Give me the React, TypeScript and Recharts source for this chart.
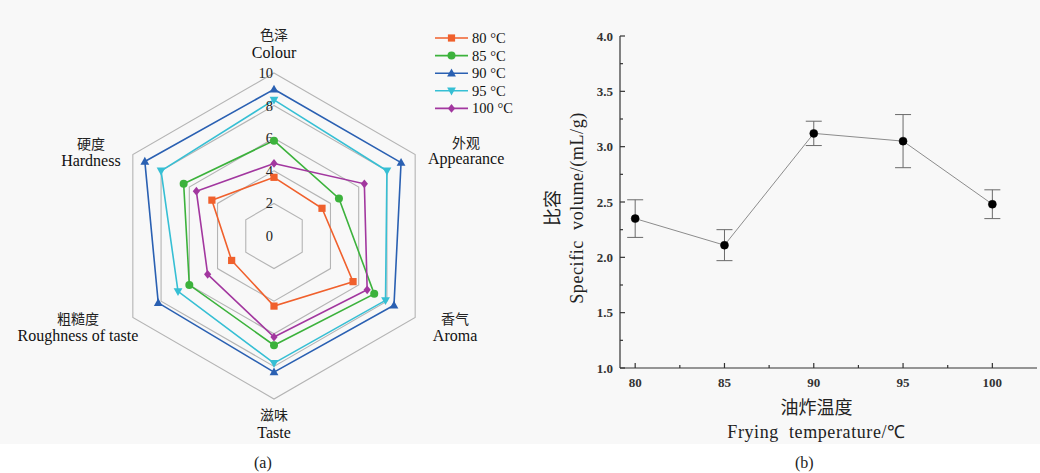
import React from "react";
import {
  RadarChart,
  Radar,
  PolarGrid,
  PolarAngleAxis,
  PolarRadiusAxis,
  Legend,
  LineChart,
  Line,
  XAxis,
  YAxis,
  ErrorBar,
} from "recharts";

// (a) sensory scores, axis order: Colour, Appearance, Aroma, Taste, Roughness, Hardness
const attrZh = ["色泽", "外观", "香气", "滋味", "粗糙度", "硬度"];
const attrEn = ["Colour", "Appearance", "Aroma", "Taste", "Roughness of taste", "Hardness"];
const score80 = [3.6, 3.4, 5.6, 4.3, 3.0, 4.4];
const score85 = [5.85, 4.6, 7.1, 6.7, 6.0, 6.4];
const score90 = [9.0, 9.0, 8.5, 8.35, 8.2, 9.15];
const score95 = [8.35, 8.0, 7.9, 7.8, 6.8, 8.0];
const score100 = [4.45, 6.4, 6.6, 6.2, 4.7, 5.5];
const radarTicks = [0, 2, 4, 6, 8, 10];

// (b) specific volume vs frying temperature
const temps = [80, 85, 90, 95, 100];
const volume = [2.35, 2.11, 3.12, 3.05, 2.48];
const volumeErr = [0.17, 0.14, 0.11, 0.24, 0.13];
const xTicks = [80, 82.5, 85, 87.5, 90, 92.5, 95, 97.5, 100];
const yTicks = [1, 1.25, 1.5, 1.75, 2, 2.25, 2.5, 2.75, 3, 3.25, 3.5, 3.75, 4];

const series = [
  { key: "t80", name: "80 °C", color: "#f0602c", shape: "square", values: score80 },
  { key: "t85", name: "85 °C", color: "#3cb23c", shape: "circle", values: score85 },
  { key: "t90", name: "90 °C", color: "#2a60b2", shape: "up", values: score90 },
  { key: "t95", name: "95 °C", color: "#36bfd4", shape: "down", values: score95 },
  { key: "t100", name: "100 °C", color: "#a2379f", shape: "diamond", values: score100 },
];

const radarData = attrEn.map((en, i) => {
  const row: Record<string, any> = { attr: en, zh: attrZh[i] };
  series.forEach((s) => (row[s.key] = s.values[i]));
  return row;
});

const volumeData = temps.map((t, i) => ({ temp: t, vol: volume[i], err: volumeErr[i] }));

const SERIF = '"Liberation Serif", "Times New Roman", serif';
const CJK = '"Noto Sans CJK SC", sans-serif';

// label offsets from the angle-axis tick point, per axis
const labelOffsets = [
  { dx: 0, dy1: -31, dy2: -13 },
  { dx: 44, dy1: -9, dy2: 8 },
  { dx: 33, dy1: -4, dy2: 14 },
  { dx: 0, dy1: 7, dy2: 25 },
  { dx: -48, dy1: -4, dy2: 14 },
  { dx: -35, dy1: -8, dy2: 10 },
];

const Marker = ({ shape, cx, cy, color }: any) => {
  const s = 3.6;
  switch (shape) {
    case "square":
      return <rect x={cx - s} y={cy - s} width={s * 2} height={s * 2} fill={color} />;
    case "circle":
      return <circle cx={cx} cy={cy} r={s + 0.4} fill={color} />;
    case "up":
      return (
        <polygon
          points={`${cx},${cy - s - 1} ${cx + s + 0.8},${cy + s - 0.4} ${cx - s - 0.8},${cy + s - 0.4}`}
          fill={color}
        />
      );
    case "down":
      return (
        <polygon
          points={`${cx},${cy + s + 1} ${cx + s + 0.8},${cy - s + 0.4} ${cx - s - 0.8},${cy - s + 0.4}`}
          fill={color}
        />
      );
    default:
      return (
        <polygon
          points={`${cx},${cy - s - 0.8} ${cx + s},${cy} ${cx},${cy + s + 0.8} ${cx - s},${cy}`}
          fill={color}
        />
      );
  }
};

const AngleTick = (props: any) => {
  const { x, y, payload } = props;
  const i = attrEn.indexOf(payload.value);
  const o = labelOffsets[i] || { dx: 0, dy1: 0, dy2: 16 };
  return (
    <g>
      <text x={x + o.dx} y={y + o.dy1} textAnchor="middle" dominantBaseline="central" fontFamily={CJK} fontSize={14} fill="#222">
        {attrZh[i]}
      </text>
      <text x={x + o.dx} y={y + o.dy2} textAnchor="middle" dominantBaseline="central" fontFamily={SERIF} fontSize={16} fill="#111">
        {payload.value}
      </text>
    </g>
  );
};

const RadiusTick = (props: any) => {
  const { x, y, payload } = props;
  return (
    <text x={x - 1} y={y} textAnchor="end" dominantBaseline="central" fontFamily={SERIF} fontSize={14.5} fill="#222">
      {payload.value}
    </text>
  );
};

const RadarLegend = () => (
  <svg width={110} height={95}>
    {series.map((s, i) => {
      const y = 10 + i * 17.6;
      return (
        <g key={s.key}>
          <line x1={3} x2={36} y1={y} y2={y} stroke={s.color} strokeWidth={1.6} />
          <Marker shape={s.shape} cx={19.5} cy={y} color={s.color} />
          <text x={40} y={y} dominantBaseline="central" fontFamily={SERIF} fontSize={14.5} fill="#111">
            {s.name}
          </text>
        </g>
      );
    })}
  </svg>
);

const XTick = (props: any) => {
  const { x, y, payload } = props;
  const major = payload.value % 5 === 0;
  return (
    <g>
      <line x1={x} x2={x} y1={y} y2={y - (major ? 5 : 3)} stroke="#333" strokeWidth={1.2} />
      {major && (
        <text x={x} y={y + 14} textAnchor="middle" dominantBaseline="central" fontFamily={SERIF} fontSize={13} fontWeight="bold" fill="#333">
          {payload.value}
        </text>
      )}
    </g>
  );
};

const YTick = (props: any) => {
  const { x, y, payload } = props;
  const major = Number.isInteger(payload.value * 2);
  return (
    <g>
      <line x1={x} x2={x + (major ? 5 : 3)} y1={y} y2={y} stroke="#333" strokeWidth={1.2} />
      {major && (
        <text x={x - 7} y={y} textAnchor="end" dominantBaseline="central" fontFamily={SERIF} fontSize={13} fontWeight="bold" fill="#333">
          {payload.value.toFixed(1)}
        </text>
      )}
    </g>
  );
};

const XTitle = ({ viewBox }: any) => {
  const cx = viewBox.x + viewBox.width / 2 - 12;
  return (
    <g>
      <text x={cx} y={viewBox.y + 38} textAnchor="middle" dominantBaseline="central" fontFamily={CJK} fontSize={18} fill="#222">
        油炸温度
      </text>
      <text x={cx} y={viewBox.y + 64} textAnchor="middle" dominantBaseline="central" fontFamily={SERIF} fontSize={18} letterSpacing={0.6} wordSpacing={5} fill="#222">
        Frying temperature/℃
      </text>
    </g>
  );
};

const YTitle = ({ viewBox }: any) => {
  const cy = viewBox.y + viewBox.height / 2 + 6;
  return (
    <g>
      <text x={31} y={cy} transform={`rotate(-90, 31, ${cy})`} textAnchor="middle" dominantBaseline="central" fontFamily={CJK} fontSize={18} fill="#222">
        比容
      </text>
      <text x={57} y={cy} transform={`rotate(-90, 57, ${cy})`} textAnchor="middle" dominantBaseline="central" fontFamily={SERIF} fontSize={18} letterSpacing={0.6} wordSpacing={5} fill="#222">
        Specific volume/(mL/g)
      </text>
    </g>
  );
};

export default function App() {
  return (
    <div style={{ position: "absolute", left: 0, top: 0, width: 1040, height: 473, background: "#ffffff", overflow: "hidden" }}>
      <div style={{ position: "absolute", left: 0, top: 0, width: 1040, height: 444, background: "#f8f8f8" }} />
      <div style={{ position: "absolute", left: 0, top: 0 }}>
        <RadarChart width={520} height={444} data={radarData} cx={274} cy={236} outerRadius={163}>
          <PolarGrid gridType="polygon" radialLines={false} stroke="#b4b4b4" strokeWidth={1.1} />
          <PolarAngleAxis dataKey="attr" tick={AngleTick} tickLine={false} axisLine={false} />
          <PolarRadiusAxis angle={90} domain={[0, 10]} ticks={radarTicks as any} tick={RadiusTick} axisLine={false} tickLine={false} />
          {series.map((s) => (
            <Radar
              key={s.key}
              name={s.name}
              dataKey={s.key}
              stroke={s.color}
              strokeWidth={1.6}
              fill="none"
              fillOpacity={0}
              isAnimationActive={false}
              dot={(p: any) => <Marker key={`${s.key}-${p.index}`} shape={s.shape} cx={p.cx} cy={p.cy} color={s.color} />}
            />
          ))}
          <Legend content={<RadarLegend />} wrapperStyle={{ position: "absolute", left: 432, top: 28, width: 110 }} />
        </RadarChart>
      </div>
      <div style={{ position: "absolute", left: 520, top: 0 }}>
        <LineChart width={520} height={444} data={volumeData} margin={{ top: 36, right: 3, bottom: 0, left: 0 }}>
          <XAxis
            dataKey="temp"
            type="number"
            domain={[79.15, 102.5]}
            ticks={xTicks}
            interval={0}
            height={76}
            tickSize={0}
            tickMargin={0}
            tickLine={false}
            tick={XTick}
            stroke="#333"
            strokeWidth={1.2}
            allowDataOverflow
            label={{ content: XTitle } as any}
          />
          <YAxis
            domain={[1, 4]}
            ticks={yTicks}
            interval={0}
            width={100}
            tickSize={0}
            tickMargin={0}
            tickLine={false}
            tick={YTick}
            stroke="#333"
            strokeWidth={1.2}
            allowDataOverflow
            label={{ content: YTitle } as any}
          />
          <Line
            type="linear"
            dataKey="vol"
            stroke="#8c8c8c"
            strokeWidth={1}
            dot={{ r: 4, fill: "#000", stroke: "#000", strokeWidth: 0.5 }}
            isAnimationActive={false}
          >
            <ErrorBar dataKey="err" width={8} stroke="#6a6a6a" strokeWidth={1} direction="y" />
          </Line>
        </LineChart>
      </div>
      <div style={{ position: "absolute", left: 254, top: 454, fontFamily: SERIF, fontSize: 16, color: "#222" }}>(a)</div>
      <div style={{ position: "absolute", left: 795, top: 454, fontFamily: SERIF, fontSize: 16, color: "#222" }}>(b)</div>
    </div>
  );
}
